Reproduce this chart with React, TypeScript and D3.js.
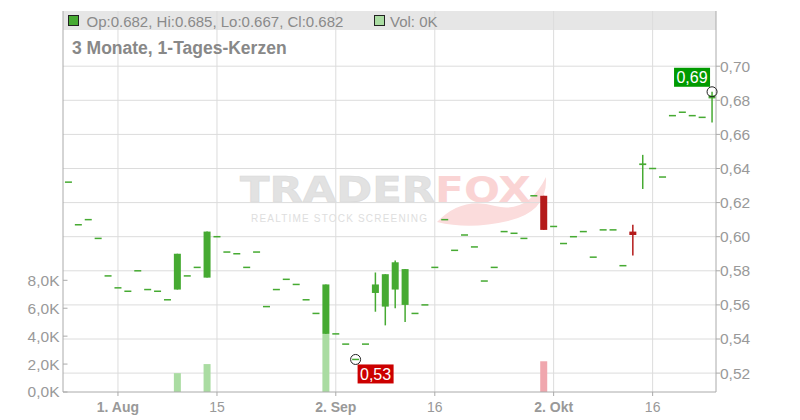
import React from 'react';
import * as d3 from 'd3';

// trading days shown (3 months of daily candles)
const dates = [
  '2024-07-25', '2024-07-26', '2024-07-29', '2024-07-30', '2024-07-31',
  '2024-08-01', '2024-08-02', '2024-08-05', '2024-08-06', '2024-08-07', '2024-08-08', '2024-08-09',
  '2024-08-12', '2024-08-13', '2024-08-14', '2024-08-15', '2024-08-16',
  '2024-08-19', '2024-08-20', '2024-08-21', '2024-08-22', '2024-08-23',
  '2024-08-26', '2024-08-27', '2024-08-28', '2024-08-29', '2024-08-30',
  '2024-09-02', '2024-09-03', '2024-09-04', '2024-09-05', '2024-09-06',
  '2024-09-09', '2024-09-10', '2024-09-11', '2024-09-12', '2024-09-13',
  '2024-09-16', '2024-09-17', '2024-09-18', '2024-09-19', '2024-09-20',
  '2024-09-23', '2024-09-24', '2024-09-25', '2024-09-26', '2024-09-27',
  '2024-09-30', '2024-10-01', '2024-10-02', '2024-10-03', '2024-10-04',
  '2024-10-07', '2024-10-08', '2024-10-09', '2024-10-10', '2024-10-11',
  '2024-10-14', '2024-10-15', '2024-10-16', '2024-10-17', '2024-10-18',
  '2024-10-21', '2024-10-22', '2024-10-23', '2024-10-24',
];

const opens = [
  0.632, 0.607, 0.610, 0.599, 0.577,
  0.570, 0.568, 0.580, 0.569, 0.568, 0.563, 0.569,
  0.577, 0.582, 0.576, 0.600, 0.591,
  0.590, 0.582, 0.591, 0.559, 0.569,
  0.575, 0.572, 0.563, 0.555, 0.543,
  0.543, 0.537, 0.528, 0.537, 0.567,
  0.559, 0.569, 0.560, 0.555, 0.560,
  0.582, 0.610, 0.592, 0.601, 0.594,
  0.574, 0.582, 0.603, 0.602, 0.599,
  0.624, 0.624, 0.606, 0.596, 0.600,
  0.603, 0.588, 0.604, 0.604, 0.583,
  0.603, 0.642, 0.640, 0.635, 0.671,
  0.673, 0.671, 0.670, 0.682,
];

const highs = [
  0.632, 0.607, 0.610, 0.599, 0.577,
  0.570, 0.568, 0.580, 0.569, 0.568, 0.563, 0.590,
  0.577, 0.582, 0.603, 0.600, 0.591,
  0.590, 0.582, 0.591, 0.559, 0.569,
  0.575, 0.572, 0.563, 0.555, 0.572,
  0.543, 0.537, 0.528, 0.537, 0.579,
  0.578, 0.586, 0.581, 0.555, 0.560,
  0.582, 0.610, 0.592, 0.601, 0.594,
  0.574, 0.582, 0.603, 0.602, 0.599,
  0.624, 0.624, 0.606, 0.596, 0.600,
  0.603, 0.588, 0.604, 0.604, 0.583,
  0.607, 0.648, 0.640, 0.635, 0.671,
  0.673, 0.671, 0.670, 0.685,
];

const lows = [
  0.632, 0.607, 0.610, 0.599, 0.577,
  0.570, 0.568, 0.580, 0.569, 0.568, 0.563, 0.569,
  0.577, 0.582, 0.576, 0.600, 0.591,
  0.590, 0.582, 0.591, 0.559, 0.569,
  0.575, 0.572, 0.563, 0.555, 0.543,
  0.543, 0.537, 0.528, 0.537, 0.556,
  0.548, 0.558, 0.550, 0.555, 0.560,
  0.582, 0.610, 0.592, 0.601, 0.594,
  0.574, 0.582, 0.603, 0.602, 0.599,
  0.624, 0.604, 0.606, 0.596, 0.600,
  0.603, 0.588, 0.604, 0.604, 0.583,
  0.589, 0.628, 0.640, 0.635, 0.671,
  0.673, 0.671, 0.670, 0.667,
];

const closes = [
  0.632, 0.607, 0.610, 0.599, 0.577,
  0.570, 0.568, 0.580, 0.569, 0.568, 0.563, 0.590,
  0.577, 0.582, 0.603, 0.600, 0.591,
  0.590, 0.582, 0.591, 0.559, 0.569,
  0.575, 0.572, 0.563, 0.555, 0.572,
  0.543, 0.537, 0.528, 0.537, 0.572,
  0.578, 0.585, 0.581, 0.555, 0.560,
  0.582, 0.610, 0.592, 0.601, 0.594,
  0.574, 0.582, 0.603, 0.602, 0.599,
  0.624, 0.604, 0.606, 0.596, 0.600,
  0.603, 0.588, 0.604, 0.604, 0.583,
  0.601, 0.643, 0.640, 0.635, 0.671,
  0.673, 0.671, 0.670, 0.682,
];

const volumes = [
  0, 0, 0, 0, 0,
  0, 0, 0, 0, 0, 0, 1350,
  0, 0, 2000, 0, 0,
  0, 0, 0, 0, 0,
  0, 0, 0, 0, 4150,
  0, 0, 0, 0, 0,
  0, 0, 0, 0, 0,
  0, 0, 0, 0, 0,
  0, 0, 0, 0, 0,
  0, 2200, 0, 0, 0,
  0, 0, 0, 0, 0,
  0, 0, 0, 0, 0,
  0, 0, 0, 0,
];

const tickDates = ['2024-08-01', '2024-08-15', '2024-09-02', '2024-09-16', '2024-10-02', '2024-10-16'];
const tickLabels = ['1. Aug', '15', '2. Sep', '16', '2. Okt', '16'];
const priceTicks = [0.52, 0.54, 0.56, 0.58, 0.60, 0.62, 0.64, 0.66, 0.68, 0.70];
const volumeTicks = [0, 2000, 4000, 6000, 8000];

const FONT = '"Liberation Sans", Arial, sans-serif';
const UP = '#46aa32';
const DOWN = '#b41a1a';
const VOL_UP = '#aadca2';
const VOL_DOWN = '#f0a7ae';
const GRID = '#dcdcdc';
const AXIS = '#aaaaaa';
const TEXT = '#999999';

const left = 63;
const right = 716;
const top = 11;
const bottom = 392;

const comma = (v: number, f: string) => d3.format(f)(v).replace('.', ',');

export default function App() {
  const x = d3.scaleBand<string>().domain(dates).range([63.5, 717]).padding(0);
  const cx = (d: string) => (x(d) as number) + x.bandwidth() / 2;
  const y = d3.scaleLinear().domain([0.52, 0.70]).range([373.1, 66.2]);
  const yVol = d3.scaleLinear().domain([0, 8000]).range([bottom, 280.3]);
  const w = 7;

  const last = dates.length - 1;
  const hiIdx = d3.maxIndex(highs);
  const loIdx = d3.minIndex(lows);
  const hiX = cx(dates[hiIdx]);
  const hiY = y(highs[hiIdx]);
  const loX = cx(dates[loIdx]);
  const loY = y(lows[loIdx]);
  const round2 = (v: number) => Math.round(v * 100 + 1e-9) / 100;

  const legendText = `Op:${d3.format('.3f')(opens[last])}, Hi:${d3.format('.3f')(highs[last])}, Lo:${d3.format('.3f')(lows[last])}, Cl:${d3.format('.3f')(closes[last])}`;

  return (
    <svg width={800} height={420} style={{ position: 'absolute', left: 0, top: 0, background: '#fff' }} fontFamily={FONT}>
      {/* legend band */}
      <rect x={left} y={top} width={right - left} height={19} fill="#e6e6e6" />

      {/* watermark */}
      <g>
        <text x={240} y={202} fontSize={36} fontWeight="900" fontFamily='"DejaVu Sans", sans-serif' fill="#e2e2e2" stroke="#dadada" strokeWidth={0.6} textLength={195} lengthAdjust="spacingAndGlyphs">TRADER</text>
        <path d="M437,222 Q462,196 495,206 Q528,214 546,177 Q548,212 508,221 Q470,230 437,222 Z" fill="#fbdcdc" />
        <text x={435} y={202} fontSize={36} fontWeight="900" fontFamily='"DejaVu Sans", sans-serif' fill="#fad4d4" textLength={96} lengthAdjust="spacingAndGlyphs">FOX</text>
        <text x={251} y={222} fontSize={10} fill="#dedede" textLength={176} lengthAdjust="spacing">REALTIME STOCK SCREENING</text>
      </g>

      {/* grid */}
      {priceTicks.map((t) => (
        <line key={'h' + t} x1={left} x2={right} y1={y(t)} y2={y(t)} stroke={GRID} strokeWidth={1} />
      ))}
      {tickDates.map((d) => (
        <line key={'v' + d} x1={cx(d)} x2={cx(d)} y1={top} y2={bottom} stroke={GRID} strokeWidth={1} />
      ))}

      {/* legend */}
      <rect x={68.5} y={15.5} width={10} height={10} fill={UP} stroke="#222" strokeWidth={1} />
      <text x={86.5} y={26.5} fontSize={15} fill="#8a8a8a">{legendText}</text>
      <rect x={374.5} y={15.5} width={10} height={10} fill={VOL_UP} stroke="#222" strokeWidth={1} />
      <text x={390} y={26.5} fontSize={15} fill="#8a8a8a">{`Vol: ${d3.format('.0f')(volumes[last] / 1000)}K`}</text>
      <text x={72} y={53.5} fontSize={17.5} fontWeight="bold" fill="#888">3 Monate, 1-Tages-Kerzen</text>

      {/* volume */}
      {dates.map((d, i) =>
        volumes[i] > 0 ? (
          <rect key={'vol' + d} x={cx(d) - w / 2} y={yVol(volumes[i])} width={w} height={bottom - yVol(volumes[i])}
            fill={closes[i] >= opens[i] ? VOL_UP : VOL_DOWN} />
        ) : null
      )}

      {/* candles */}
      {dates.map((d, i) => {
        const c = closes[i] >= opens[i] ? UP : DOWN;
        const xc = cx(d);
        const yo = y(opens[i]);
        const yc = y(closes[i]);
        const flat = Math.abs(yo - yc) < 1.5;
        return (
          <g key={'c' + d}>
            {highs[i] > lows[i] && (
              <line x1={xc} x2={xc} y1={y(highs[i])} y2={y(lows[i])} stroke={c} strokeWidth={1.5} />
            )}
            {flat ? (
              <rect x={xc - w / 2} y={(yo + yc) / 2 - (highs[i] > lows[i] ? 1.5 : 0.75)} width={w} height={highs[i] > lows[i] ? 3 : 1.5} fill={c} />
            ) : (
              <rect x={xc - w / 2} y={Math.min(yo, yc)} width={w} height={Math.abs(yo - yc)} fill={c} />
            )}
          </g>
        );
      })}

      {/* axes */}
      <line x1={left} x2={left} y1={top} y2={bottom} stroke={AXIS} />
      <line x1={right} x2={right} y1={top} y2={bottom} stroke={AXIS} />
      <line x1={left} x2={right} y1={bottom} y2={bottom} stroke={AXIS} />

      {priceTicks.map((t) => (
        <g key={'pt' + t}>
          <line x1={right} x2={right + 4} y1={y(t)} y2={y(t)} stroke={AXIS} />
          <text x={right + 4} y={y(t)} dy="0.35em" fontSize={15.5} fill={TEXT}>{comma(t, '.2f')}</text>
        </g>
      ))}
      {volumeTicks.map((t) => (
        <g key={'vt' + t}>
          <line x1={left} x2={left + 4.5} y1={yVol(t)} y2={yVol(t)} stroke={AXIS} />
          <text x={59.5} y={yVol(t)} dy="0.35em" fontSize={15.5} fill={TEXT} textAnchor="end">{comma(t / 1000, '.1f')}K</text>
        </g>
      ))}
      {tickDates.map((d, i) => (
        <g key={'xt' + d}>
          <line x1={cx(d)} x2={cx(d)} y1={bottom} y2={bottom + 4} stroke={AXIS} />
          <text x={cx(d)} y={412} fontSize={14} textAnchor="middle" fill={TEXT}
            fontWeight={tickLabels[i].includes('.') ? 'bold' : 'normal'}>{tickLabels[i]}</text>
        </g>
      ))}

      {/* high / low markers */}
      <circle cx={hiX} cy={hiY} r={5} fill="none" stroke="#222" strokeWidth={1} />
      <rect x={hiX - 38} y={hiY - 24} width={36} height={19} fill="#009a00" />
      <text x={hiX - 20} y={hiY - 14.5} dy="0.35em" fontSize={16} fill="#fff" textAnchor="middle">{comma(round2(highs[hiIdx]), '.2f')}</text>

      <circle cx={loX} cy={loY} r={5} fill="none" stroke="#222" strokeWidth={1} />
      <rect x={loX + 2} y={loY + 5} width={36} height={19} fill="#cc0000" />
      <text x={loX + 20} y={loY + 14.5} dy="0.35em" fontSize={16} fill="#fff" textAnchor="middle">{comma(round2(lows[loIdx]), '.2f')}</text>
    </svg>
  );
}
